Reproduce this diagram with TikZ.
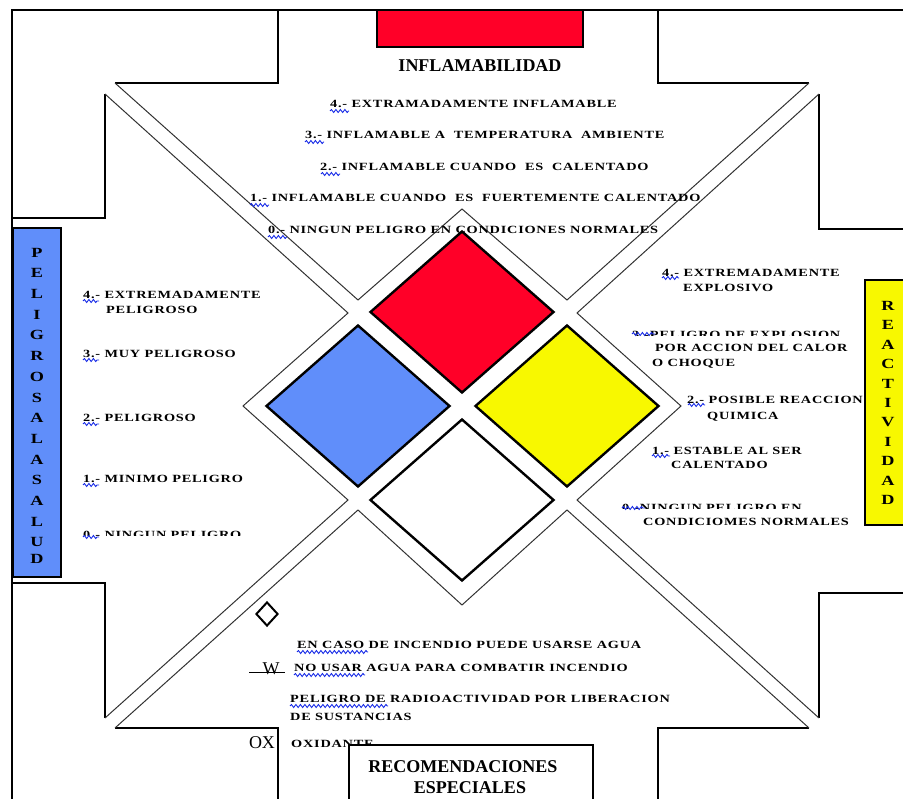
\documentclass[tikz,border=0pt]{standalone}
\usepackage{fontspec}
\setmainfont{Liberation Serif}
\newfontfamily\widefont{Liberation Serif}[FakeStretch=1.3,LetterSpace=7]
\usetikzlibrary{shapes.geometric, decorations.pathmorphing}

\definecolor{firered}{RGB}{255,0,40}
\definecolor{healthblue}{RGB}{96,142,250}
\definecolor{reactyellow}{RGB}{248,248,0}
\definecolor{linegray}{RGB}{50,50,50}
\definecolor{squigblue}{RGB}{20,40,230}

\begin{document}
\begin{tikzpicture}[
  x=1pt, y=-1pt,
  frame/.style={line width=1.8pt},
  band/.style={linegray, line width=1pt},
  panel/.style={diamond, draw, line width=2.4pt, minimum width=184pt, minimum height=162pt, inner sep=0pt},
  legend/.style={font=\widefont\bfseries\fontsize{11}{13}\selectfont, inner sep=0pt, anchor=west, text height=7.3pt, text depth=0pt},
  title/.style={font=\bfseries\fontsize{18}{20}\selectfont, inner sep=0pt},
  letters/.style={font=\widefont\bfseries\fontsize{14}{20.7}\selectfont, inner sep=0pt, align=center},
  squig/.style={squigblue, line width=0.9pt, decorate, decoration={snake, segment length=4.5pt, amplitude=1.5pt}}
]
\useasboundingbox (0,0) rectangle (903,799);

% outer frame
\draw[frame] (12,799) -- (12,10) -- (903,10);

% top zone
\draw[frame] (278,10) -- (278,83) -- (115,83);
\draw[frame] (658,10) -- (658,83) -- (809,83);
\draw[band] (115,83) -- (358,300) -- (462,209) -- (567,300) -- (809,83);

% left zone
\draw[frame] (12,218) -- (105,218) -- (105,94);
\draw[frame] (12,583) -- (105,583) -- (105,718);
\draw[band] (105,94) -- (348,313) -- (243,406) -- (348,500) -- (105,718);

% right zone
\draw[frame] (903,229) -- (819,229) -- (819,94);
\draw[frame] (903,593) -- (819,593) -- (819,718);
\draw[band] (819,94) -- (577,313) -- (681,406) -- (577,500) -- (819,718);

% bottom zone
\draw[frame] (115,728) -- (278,728) -- (278,799);
\draw[frame] (809,728) -- (658,728) -- (658,799);
\draw[band] (115,728) -- (358,510) -- (462,605) -- (567,510) -- (809,728);

% the four panels
\node[panel, fill=firered] (fire) at (462,312) {};
\node[panel, fill=healthblue] (health) at (358,406) {};
\node[panel, fill=reactyellow] (react) at (567,406) {};
\node[panel, fill=white] (special) at (462,500) {};

% headings
\draw[line width=2pt, fill=firered] (377,10) rectangle (583,47);
\node[title] (inflam) at (480,66) {INFLAMABILIDAD};
\draw[line width=2.8pt, fill=healthblue] (13,228) rectangle (61,577);
\node[letters] (salud) at (37,406) {P\\E\\L\\I\\G\\R\\O\\S\\A\\L\\A\\S\\A\\L\\U\\[-3.7pt]D};
\draw[line width=2.8pt, fill=reactyellow] (865,280) rectangle (906,525);
\node[letters, font=\widefont\bfseries\fontsize{14}{19.4}\selectfont] (reac) at (888,403) {R\\E\\A\\C\\T\\I\\V\\I\\D\\A\\D};

% flammability
\node[legend] (f4) at (330,104) {4.- EXTRAMADAMENTE INFLAMABLE};
\node[legend] (f3) at (305,135) {3.- INFLAMABLE A~ TEMPERATURA~ AMBIENTE};
\node[legend] (f2) at (320,167) {2.- INFLAMABLE CUANDO~ ES~ CALENTADO};
\node[legend] (f1) at (250,198) {1.- INFLAMABLE CUANDO~ ES~ FUERTEMENTE CALENTADO};
\node[legend] (f0) at (268,230) {0.- NINGUN PELIGRO EN CONDICIONES NORMALES};
\draw[squig] (330,111) -- (349,111);
\draw[squig] (305,142) -- (324,142);
\draw[squig] (321,174) -- (340,174);
\draw[squig] (250,205) -- (269,205);
\draw[squig] (268,237) -- (287,237);

% health
\node[legend] (h4) at (83,295) {4.- EXTREMADAMENTE};
\node[legend] (h4b) at (106,310) {PELIGROSO};
\node[legend] (h3) at (83,354) {3.- MUY PELIGROSO};
\node[legend] (h2) at (83,418) {2.- PELIGROSO};
\node[legend] (h1) at (83,479) {1.- MINIMO PELIGRO};
\begin{scope}
  \clip (70,520) rectangle (260,536);
  \node[legend] (h0) at (83,535) {0.- NINGUN PELIGRO};
\end{scope}
\draw[squig] (83,301) -- (99,301);
\draw[squig] (83,360) -- (99,360);
\draw[squig] (83,424) -- (99,424);
\draw[squig] (83,485) -- (99,485);
\draw[squig] (83,537) -- (99,537);

% reactivity
\node[legend] (r4) at (662,273) {4.- EXTREMADAMENTE};
\node[legend] (r4b) at (683,288) {EXPLOSIVO};
\begin{scope}
  \clip (600,320) rectangle (870,336);
  \node[legend] (r3) at (632,334.5) {3.-PELIGRO DE EXPLOSION};
\end{scope}
\node[legend] (r3b) at (655,348) {POR ACCION DEL CALOR};
\node[legend] (r3c) at (652,363) {O CHOQUE};
\node[legend] (r2) at (687,400) {2.- POSIBLE REACCION};
\node[legend] (r2b) at (707,416) {QUIMICA};
\node[legend] (r1) at (652,451) {1.- ESTABLE AL SER};
\node[legend] (r1b) at (671,465) {CALENTADO};
\begin{scope}
  \clip (600,495) rectangle (870,509);
  \node[legend] (r0) at (622,507.5) {0.-NINGUN PELIGRO EN};
\end{scope}
\node[legend] (r0b) at (643,522) {CONDICIOMES NORMALES};
\draw[squig] (662,278) -- (679,278);
\draw[squig] (632,334) -- (655,334);
\draw[squig] (688,405) -- (705,405);
\draw[squig] (652,456) -- (670,456);
\draw[squig] (622,508) -- (645,508);

% special recommendations
\node[draw, line width=2pt, diamond, minimum width=22pt, minimum height=24pt, inner sep=0pt] (mark) at (267,614) {};
\node[legend] (s1) at (297,645) {EN CASO DE INCENDIO PUEDE USARSE AGUA};
\node[title, font=\fontsize{18}{20}\selectfont] (w) at (271,669) {W};
\draw[line width=1pt] (249,672) -- (285,672);
\node[legend] (s2) at (294,668) {NO USAR AGUA PARA COMBATIR INCENDIO};
\node[legend] (s3) at (290,699) {PELIGRO DE RADIOACTIVIDAD POR LIBERACION};
\node[legend] (s3b) at (290,717) {DE SUSTANCIAS};
\node[title, font=\fontsize{18}{20}\selectfont] (ox) at (262,743) {OX};
\node[legend] (s4) at (291,744) {OXIDANTE};
\draw[squig] (297,652) -- (368,652);
\draw[squig] (294,675) -- (365,675);
\draw[squig] (290,706) -- (388,706);

\draw[line width=2.6pt, fill=white] (349,745) rectangle (593,805);
\node[title] (rec1) at (463,767) {RECOMENDACIONES};
\node[title] (rec2) at (470,788) {ESPECIALES};

\end{tikzpicture}
\end{document}
